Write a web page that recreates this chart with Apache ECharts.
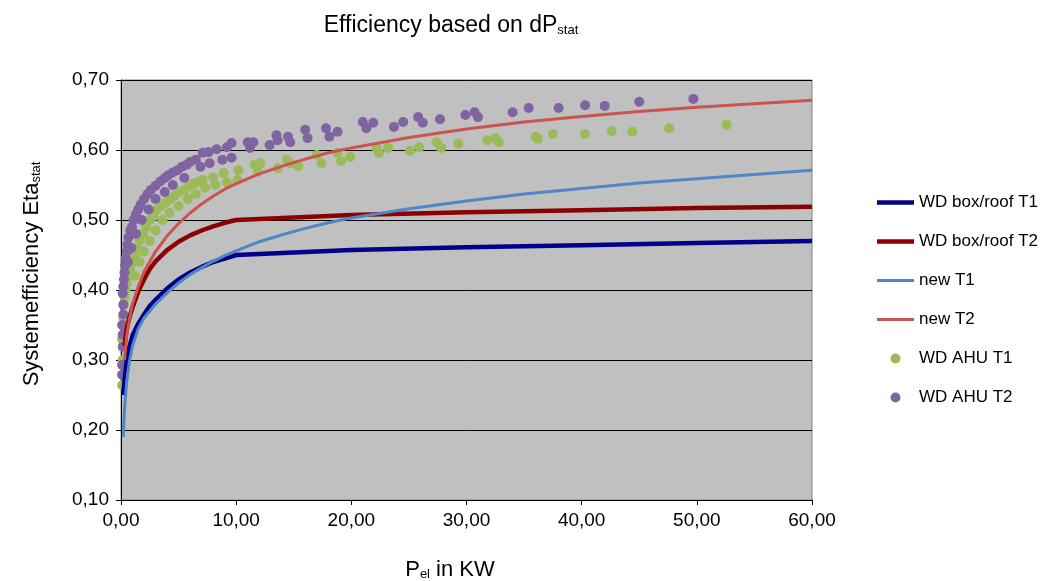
<!DOCTYPE html>
<html>
<head>
<meta charset="utf-8">
<script src="https://cdn.jsdelivr.net/npm/echarts@6/dist/echarts.min.js"></script>
<style>
  html, body { margin: 0; padding: 0; background: #fff; }
  #chart { width: 1043px; height: 581px; }
</style>
</head>
<body>
<div id="chart"></div>
<script>
// x = P_el in KW, y = efficiency
const legendNames = ['WD box/roof T1', 'WD box/roof T2', 'new T1', 'new T2', 'WD AHU T1', 'WD AHU T2']
const yTicks = [0.1, 0.2, 0.3, 0.4, 0.5, 0.6, 0.7]

const wdBoxT1 = [
  [0.2, 0.25], [0.3, 0.27], [0.5, 0.3], [0.75, 0.32], [1, 0.335], [1.5, 0.352], [2, 0.365],
  [2.5, 0.377], [3, 0.386], [4, 0.402], [5, 0.415], [6, 0.425], [7, 0.433], [8, 0.44],
  [9, 0.445], [10, 0.45], [20, 0.457], [30, 0.461], [40, 0.464], [50, 0.467], [60, 0.47]
]
const wdBoxT2 = [
  [0.3, 0.32], [0.5, 0.345], [0.75, 0.362], [1, 0.375], [1.5, 0.398], [2, 0.415],
  [2.5, 0.43], [3, 0.441], [4, 0.457], [5, 0.469], [6, 0.478], [7, 0.485], [8, 0.491],
  [9, 0.496], [10, 0.5], [20, 0.507], [30, 0.511], [40, 0.514], [50, 0.517], [60, 0.519]
]
const newT1 = [
  [0.2, 0.19], [0.3, 0.23], [0.5, 0.27], [0.75, 0.3], [1, 0.32], [1.5, 0.345], [2, 0.36],
  [3, 0.38], [4, 0.396], [5, 0.41], [6, 0.422], [7, 0.432], [8, 0.441], [9, 0.449],
  [10, 0.456], [12, 0.469], [14, 0.479], [16, 0.488], [18, 0.496], [20, 0.503],
  [25, 0.516], [30, 0.527], [35, 0.537], [40, 0.545], [45, 0.553], [50, 0.559],
  [55, 0.565], [60, 0.571]
]
const newT2 = [
  [0.3, 0.3], [0.5, 0.335], [0.75, 0.36], [1, 0.38], [1.5, 0.405], [2, 0.426], [3, 0.455],
  [4, 0.477], [5, 0.495], [6, 0.51], [7, 0.523], [8, 0.534], [9, 0.544], [10, 0.552],
  [12, 0.566], [14, 0.577], [16, 0.587], [18, 0.596], [20, 0.603], [25, 0.618],
  [30, 0.63], [35, 0.64], [40, 0.648], [45, 0.655], [50, 0.661], [55, 0.666], [60, 0.671]
]
const ahuT1 = [
  [0.1, 0.264], [0.1, 0.33], [0.15, 0.3], [0.2, 0.36], [0.25, 0.38], [0.3, 0.39],
  [0.4, 0.4], [0.5, 0.41], [0.6, 0.42], [0.8, 0.43], [1.0, 0.44], [1.2, 0.45],
  [1.4, 0.46], [1.6, 0.47], [1.9, 0.48], [2.2, 0.49], [2.5, 0.5], [2.8, 0.505],
  [3.1, 0.515], [3.5, 0.52], [3.9, 0.525], [4.3, 0.53], [4.7, 0.535], [5.1, 0.54],
  [5.5, 0.543], [5.9, 0.548], [6.3, 0.552], [6.8, 0.555], [7.1, 0.557], [7.3, 0.546],
  [8.0, 0.561], [8.2, 0.55], [8.9, 0.567], [9.2, 0.554], [10.1, 0.557], [10.2, 0.571],
  [11.6, 0.579], [11.9, 0.569], [12.1, 0.581], [13.6, 0.574], [14.4, 0.586],
  [14.7, 0.581], [15.4, 0.577], [17, 0.593], [17.4, 0.581], [18.8, 0.596], [19.1, 0.584],
  [19.9, 0.59], [22.2, 0.603], [22.4, 0.596], [23.2, 0.603], [25.1, 0.599], [25.9, 0.604],
  [27.4, 0.611], [27.8, 0.603], [29.3, 0.609], [31.8, 0.614], [32.5, 0.617], [32.8, 0.611],
  [36, 0.619], [36.2, 0.616], [37.5, 0.623], [40.3, 0.623], [42.6, 0.627], [44.4, 0.626],
  [47.6, 0.631], [52.6, 0.636],
  [1.2, 0.42], [1.6, 0.44], [2.0, 0.455], [2.5, 0.47], [3.0, 0.485], [3.6, 0.5],
  [4.2, 0.51], [5.0, 0.52], [5.8, 0.53], [6.5, 0.537]
]
const ahuT2 = [
  [0.1, 0.279], [0.1, 0.293], [0.15, 0.319], [0.15, 0.336], [0.1, 0.35], [0.2, 0.365],
  [0.2, 0.379], [0.15, 0.395], [0.2, 0.405], [0.25, 0.415], [0.3, 0.425], [0.35, 0.435],
  [0.4, 0.445], [0.5, 0.455], [0.55, 0.465], [0.65, 0.475], [0.8, 0.485], [0.95, 0.49],
  [1.1, 0.5], [1.3, 0.508], [1.5, 0.515], [1.7, 0.522], [2.0, 0.53], [2.3, 0.537],
  [2.6, 0.543], [3.0, 0.549], [3.4, 0.555], [3.8, 0.56], [4.1, 0.564], [4.5, 0.568],
  [4.9, 0.571], [5.3, 0.576], [5.7, 0.579], [6.0, 0.583], [6.5, 0.586], [6.9, 0.576],
  [7.1, 0.596], [7.6, 0.597], [7.7, 0.581], [8.3, 0.601], [8.8, 0.586], [9.2, 0.604],
  [9.6, 0.61], [9.6, 0.589], [11, 0.611], [11.2, 0.603], [11.5, 0.611], [12.9, 0.607],
  [13.5, 0.621], [13.6, 0.614], [14.5, 0.619], [14.7, 0.611], [16, 0.629], [16.2, 0.617],
  [17.8, 0.631], [18.1, 0.619], [18.8, 0.626], [21, 0.64], [21.3, 0.631], [21.9, 0.639],
  [23.7, 0.633], [24.5, 0.64], [25.8, 0.647], [26.2, 0.639], [27.7, 0.644], [29.9, 0.65],
  [30.7, 0.654], [31, 0.647], [34, 0.654], [35.4, 0.66], [38, 0.66], [40.3, 0.664],
  [42, 0.663], [45, 0.669], [49.7, 0.673],
  [0.6, 0.44], [0.9, 0.46], [1.3, 0.48], [1.8, 0.5], [2.4, 0.515], [3.0, 0.53],
  [3.8, 0.54], [4.5, 0.55], [5.5, 0.56]
]

const font = 'Liberation Sans, Arial, sans-serif'
const comma = function(v, d) {
  return v.toFixed(d).replace('.', ',')
}
// main text + subscript, used by title, x name and y name
const makeRich = function(size) {
  return {
    a: { fontSize: size, lineHeight: 26, verticalAlign: 'bottom', fontWeight: 'normal', color: '#000', fontFamily: font },
    s: { fontSize: 13, lineHeight: 13, padding: [11, 0, 0, 0], verticalAlign: 'bottom', fontWeight: 'normal', color: '#000', fontFamily: font }
  }
}
// thin bar used as legend icon for the line series
const lineIcon = function(h) {
  return 'path://M0,0 L37,0 L37,' + h + ' L0,' + h + ' Z'
}
const lineColors = ['#00008B', '#8B0000', '#4F86C6', '#CC5450']

const chart = echarts.init(document.getElementById('chart'))
const option = {
  animation: false,
  backgroundColor: '#fff',
  textStyle: { fontFamily: font },
  title: [
    {
      text: '{a|Efficiency based on dP}{s|stat}',
      left: 446,
      top: 6,
      textAlign: 'center',
      textStyle: { fontWeight: 'normal', rich: makeRich(23) }
    },
    {
      text: '{a|P}{s|el}{a| in KW}',
      left: 445,
      top: 550,
      textAlign: 'center',
      textStyle: { fontWeight: 'normal', rich: makeRich(22) }
    }
  ],
  grid: {
    left: 121,
    right: 231,
    top: 80,
    bottom: 81,
    outerBoundsMode: 'none',
    show: true,
    backgroundColor: '#C0C0C0',
    borderColor: '#868686',
    borderWidth: 1
  },
  legend: {
    data: [
      { name: legendNames[0], icon: lineIcon(4.5), itemStyle: { color: lineColors[0] } },
      { name: legendNames[1], icon: lineIcon(4.5), itemStyle: { color: lineColors[1] } },
      { name: legendNames[2], icon: lineIcon(3), itemStyle: { color: lineColors[2] } },
      { name: legendNames[3], icon: lineIcon(3), itemStyle: { color: lineColors[3] } },
      { name: legendNames[4], icon: 'circle' },
      { name: legendNames[5], icon: 'circle' }
    ],
    orient: 'vertical',
    left: 872,
    top: 189,
    itemWidth: 37,
    itemHeight: 10,
    itemGap: 22,
    textStyle: { fontSize: 17, lineHeight: 16, color: '#000', fontFamily: font }
  },
  xAxis: {
    type: 'value',
    min: 0,
    max: 60,
    interval: 10,
    splitLine: { show: false },
    axisLine: { lineStyle: { color: '#000', width: 1 } },
    axisTick: { show: true, length: 5, lineStyle: { color: '#000' } },
    axisLabel: {
      margin: 11,
      fontSize: 19,
      color: '#000',
      formatter: function(v) { return comma(v, 2) }
    }
  },
  yAxis: {
    type: 'value',
    min: yTicks[0],
    max: yTicks[yTicks.length - 1],
    interval: 0.1,
    name: '{a|Systemefficiency Eta}{s|stat}',
    nameLocation: 'middle',
    nameGap: 78,
    nameTextStyle: { rich: makeRich(22), padding: [0, 0, 0, 32] },
    splitLine: { show: true, lineStyle: { color: '#000', width: 1 } },
    axisLine: { show: true, lineStyle: { color: '#000', width: 1 } },
    axisTick: { show: true, length: 5, lineStyle: { color: '#000' } },
    axisLabel: {
      margin: 12,
      fontSize: 19,
      color: '#000',
      formatter: function(v) { return comma(v, 2) }
    }
  },
  series: [
    {
      name: legendNames[0],
      type: 'line',
      data: wdBoxT1,
      symbol: 'none',
      lineStyle: { color: lineColors[0], width: 4.5 },
      itemStyle: { color: lineColors[0] }
    },
    {
      name: legendNames[1],
      type: 'line',
      data: wdBoxT2,
      symbol: 'none',
      lineStyle: { color: lineColors[1], width: 4.5 },
      itemStyle: { color: lineColors[1] }
    },
    {
      name: legendNames[2],
      type: 'line',
      data: newT1,
      symbol: 'none',
      lineStyle: { color: lineColors[2], width: 3 },
      itemStyle: { color: lineColors[2] }
    },
    {
      name: legendNames[3],
      type: 'line',
      data: newT2,
      symbol: 'none',
      lineStyle: { color: lineColors[3], width: 3 },
      itemStyle: { color: lineColors[3] }
    },
    {
      name: legendNames[4],
      type: 'scatter',
      data: ahuT1,
      symbol: 'circle',
      symbolSize: 10,
      itemStyle: { color: '#9BBB59', opacity: 1 }
    },
    {
      name: legendNames[5],
      type: 'scatter',
      data: ahuT2,
      symbol: 'circle',
      symbolSize: 10,
      itemStyle: { color: '#8064A2', opacity: 1 }
    }
  ]
}
chart.setOption(option)
</script>
</body>
</html>
